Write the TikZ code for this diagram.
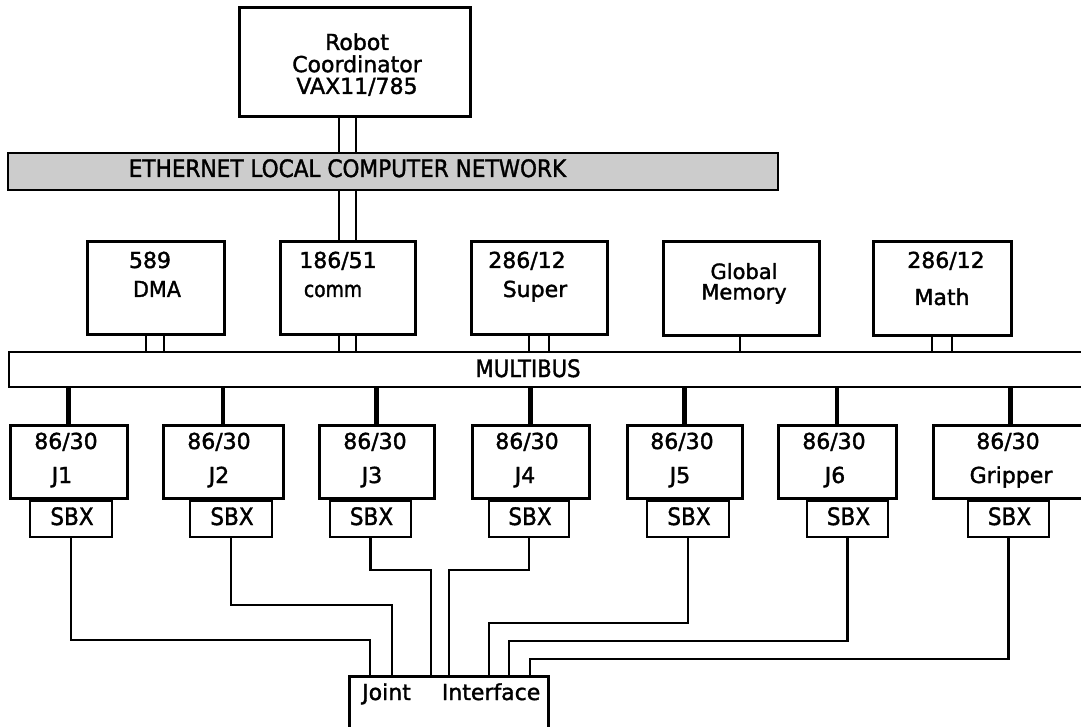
\documentclass[tikz,border=0pt]{standalone}
\usepackage{fontspec}
\usepackage{graphicx}
\setmainfont{DejaVu Sans}
\newfontfamily\heavyfont{DejaVu Sans}[FakeBold=1.6]
\usetikzlibrary{calc}
\tikzset{
  box/.style={draw, line width=3pt, inner sep=0pt, fill=white},
  sbxbox/.style={draw, line width=2.8pt, inner sep=0pt, fill=white},
  busbar/.style={draw, line width=2.8pt, inner sep=0pt},
  drop/.style={line width=4.6pt},
  dbl/.style={line width=2.5pt},
  wire/.style={line width=2.4pt},
  lbl/.style={anchor=base, inner sep=0pt, font=\heavyfont\fontsize{22}{18}\selectfont},
  lblsmall/.style={anchor=base, inner sep=0pt, font=\heavyfont\fontsize{21}{17}\selectfont},
  lblcond/.style={anchor=base, inner sep=0pt, font=\heavyfont\fontsize{24}{24}\selectfont},
}
\begin{document}
\begin{tikzpicture}[x=1pt,y=-1pt]
\useasboundingbox (0,0) rectangle (1081,727);
\fill[white] (0,0) rectangle (1081,727);
\clip (0,0) rectangle (1081,727);

% boxes
\node[box, minimum width=231pt, minimum height=109pt] (robot) at (354.5,62.5) {};
\node[busbar, fill=black!20, minimum width=770pt, minimum height=37pt] (eth) at (393,171.5) {};
\node[box, minimum width=137pt, minimum height=92pt] (dma) at (155.5,288) {};
\node[box, minimum width=135pt, minimum height=92pt] (comm) at (347.5,288) {};
\node[box, minimum width=136pt, minimum height=92pt] (super) at (539,288) {};
\node[box, minimum width=156pt, minimum height=93pt] (gmem) at (741,288.5) {};
\node[box, minimum width=138pt, minimum height=93pt] (math) at (942,288.5) {};
\node[busbar, minimum width=1091pt, minimum height=35pt] (mb) at (554.5,369.5) {};

\node[box, minimum width=117pt, minimum height=73pt] (j1) at (68.5,461.5) {};
\node[box, minimum width=120pt, minimum height=73pt] (j2) at (223,461.5) {};
\node[box, minimum width=115pt, minimum height=73pt] (j3) at (376.5,461.5) {};
\node[box, minimum width=117pt, minimum height=73pt] (j4) at (530.5,461.5) {};
\node[box, minimum width=115pt, minimum height=73pt] (j5) at (684.5,461.5) {};
\node[box, minimum width=118pt, minimum height=73pt] (j6) at (837,461.5) {};
\node[box, minimum width=155pt, minimum height=73pt] (jg) at (1010.5,461.5) {};

\node[sbxbox, minimum width=82pt, minimum height=36pt] (s1) at (71,519) {};
\node[sbxbox, minimum width=82pt, minimum height=36pt] (s2) at (231,519) {};
\node[sbxbox, minimum width=81pt, minimum height=36pt] (s3) at (370.5,519) {};
\node[sbxbox, minimum width=80pt, minimum height=36pt] (s4) at (529,519) {};
\node[sbxbox, minimum width=82pt, minimum height=36pt] (s5) at (688,519) {};
\node[sbxbox, minimum width=81pt, minimum height=36pt] (s6) at (847.5,519) {};
\node[sbxbox, minimum width=81pt, minimum height=36pt] (sg) at (1008.5,519) {};

\node[box, minimum width=199pt, minimum height=68pt] (ji) at (448.5,710) {};

% double links robot - ethernet - comm
\foreach \dx in {-8.5,8.5} {
  \draw[dbl] ($(robot.south -| comm.north)+(\dx,0)$) -- ($(eth.north -| comm.north)+(\dx,0)$);
  \draw[dbl] ($(eth.south -| comm.north)+(\dx,0)$) -- ($(comm.north)+(\dx,0)$);
  \draw[dbl] ($(comm.south)+(\dx,0)$) -- ($(mb.north -| comm.south)+(\dx,0)$);
}
\foreach \dx in {-9.5,8.5} {
  \draw[dbl] ($(dma.south)+(\dx,0)$) -- ($(mb.north -| dma.south)+(\dx,0)$);
}
\foreach \dx in {-10,10} {
  \draw[dbl] ($(super.south)+(\dx,0)$) -- ($(mb.north -| super.south)+(\dx,0)$);
  \draw[dbl] ($(math.south)+(\dx,0)$) -- ($(mb.north -| math.south)+(\dx,0)$);
}
\draw[dbl] ($(gmem.south)+(-1,0)$) -- ($(mb.north -| gmem.south)+(-1,0)$);

% multibus drops
\foreach \j in {j1,j2,j3,j4,j5,j6,jg} {
  \draw[drop] (\j.north) -- (\j.north |- mb.south);
}

% wires from SBX to joint interface
\draw[wire] (s1.south) |- (370,640) -- (370,0 |- ji.north);
\draw[wire] (s2.south) |- (392,605) -- (392,0 |- ji.north);
\draw[wire] (s3.south) |- (431,570) -- (431,0 |- ji.north);
\draw[wire] (s4.south) |- (449,570) -- (449,0 |- ji.north);
\draw[wire] (s5.south) |- (489,623) -- (489,0 |- ji.north);
\draw[wire] (s6.south) |- (509,641) -- (509,0 |- ji.north);
\draw[wire] (sg.south) |- (530,659) -- (530,0 |- ji.north);

% texts
\node[lbl] (rc) at (357,50) {\begin{tabular}[t]{@{}c@{}}Robot\\Coordinator\\VAX11/785\end{tabular}};
\node[lblcond] (etht) at (347.5,177) {\scalebox{0.9}[1]{ETHERNET LOCAL COMPUTER NETWORK}};

\node[lbl] (dma1) at (150,268) {589};
\node[lbl] (dma2) at (157,297) {\scalebox{0.94}[1]{DMA}};
\node[lbl] (comm1) at (338,268) {186/51};
\node[lbl] (comm2) at (333,297) {\scalebox{0.85}[1]{comm}};
\node[lbl] (sup1) at (527,268) {286/12};
\node[lbl] (sup2) at (535,297) {Super};
\node[lblsmall] (gm) at (744,279) {\begin{tabular}[t]{@{}c@{}}Global\\Memory\end{tabular}};
\node[lbl] (ma1) at (946,268) {286/12};
\node[lbl] (ma2) at (942,305) {Math};

\node[lblcond] (mbt) at (528,377) {\scalebox{0.88}[1]{MULTIBUS}};

\node[lbl] (j1a) at (66,449) {86/30};   \node[lbl] (j1b) at (62,483) {J1};
\node[lbl] (j2a) at (219,449) {86/30};  \node[lbl] (j2b) at (219,483) {J2};
\node[lbl] (j3a) at (375,449) {86/30};  \node[lbl] (j3b) at (372,483) {J3};
\node[lbl] (j4a) at (527,449) {86/30};  \node[lbl] (j4b) at (525,483) {J4};
\node[lbl] (j5a) at (682,449) {86/30};  \node[lbl] (j5b) at (680,483) {J5};
\node[lbl] (j6a) at (834,449) {86/30};  \node[lbl] (j6b) at (835,483) {J6};
\node[lbl] (jga) at (1008,449) {86/30}; \node[lbl] (jgb) at (1011,483) {Gripper};

\foreach \s in {s1,s2,s3,s4,s5,s6,sg} {
  \node[lblcond] (\s t) at ($(\s.center)+(1,6)$) {\scalebox{0.9}[1]{SBX}};
}

\node[lbl, anchor=base west] (jit) at (362,700) {Joint\hspace{31pt}Interface};
\end{tikzpicture}
\end{document}
